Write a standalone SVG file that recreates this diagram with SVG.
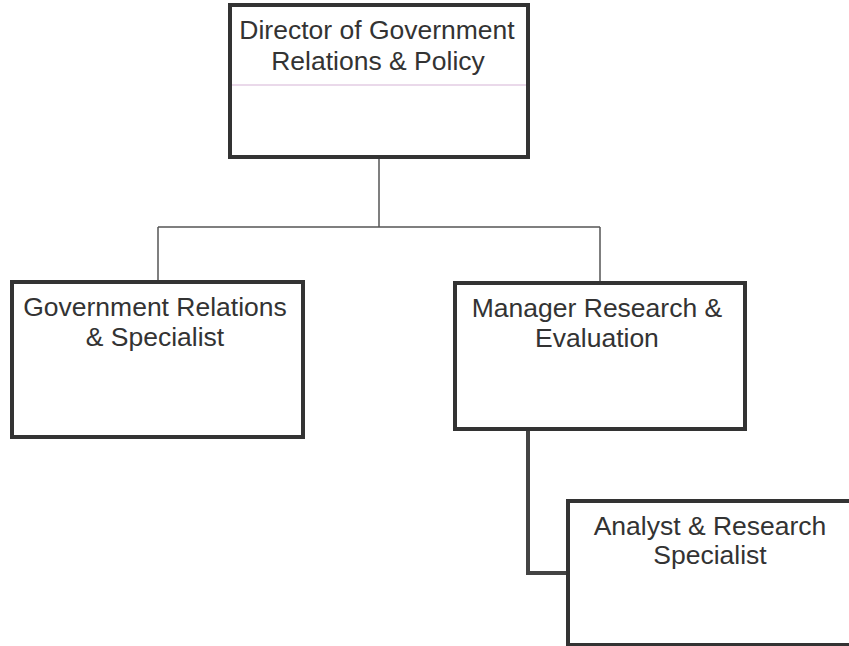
<svg xmlns="http://www.w3.org/2000/svg" width="849" height="646" viewBox="0 0 849 646">
<style>
.box{fill:#fff;stroke:#333;stroke-width:4}
.lbl{font-family:"Liberation Sans",Arial,sans-serif;font-size:26.5px;fill:#333;text-anchor:middle}
.thin{fill:none;stroke:#555;stroke-width:1.5}
.thick{fill:none;stroke:#444;stroke-width:4}
</style>
<rect width="849" height="646" fill="#fff"/>
<g id="connectors">
<path class="thin" d="M379 157V227M158 227H600M158 227V282M600 227V283"/>
<path class="thick" d="M528 429V573H568"/>
</g>
<g id="director">
<rect class="box" x="230" y="5" width="298" height="152"/>
<line x1="232" y1="85" x2="526" y2="85" stroke="#e3cde3" stroke-width="1.5"/>
<text class="lbl" x="377" y="39">Director of Government</text>
<text class="lbl" x="378" y="70">Relations &amp; Policy</text>
</g>
<g id="gov-relations">
<rect class="box" x="12" y="282" width="291" height="155"/>
<text class="lbl" x="155" y="316">Government Relations</text>
<text class="lbl" x="155" y="346">&amp; Specialist</text>
</g>
<g id="manager">
<rect class="box" x="455" y="283" width="290" height="146"/>
<text class="lbl" x="597" y="317">Manager Research &amp;</text>
<text class="lbl" x="597" y="347">Evaluation</text>
</g>
<g id="analyst">
<rect class="box" x="568" y="501" width="284" height="144"/>
<text class="lbl" x="710" y="535">Analyst &amp; Research</text>
<text class="lbl" x="710" y="564">Specialist</text>
</g>
</svg>
